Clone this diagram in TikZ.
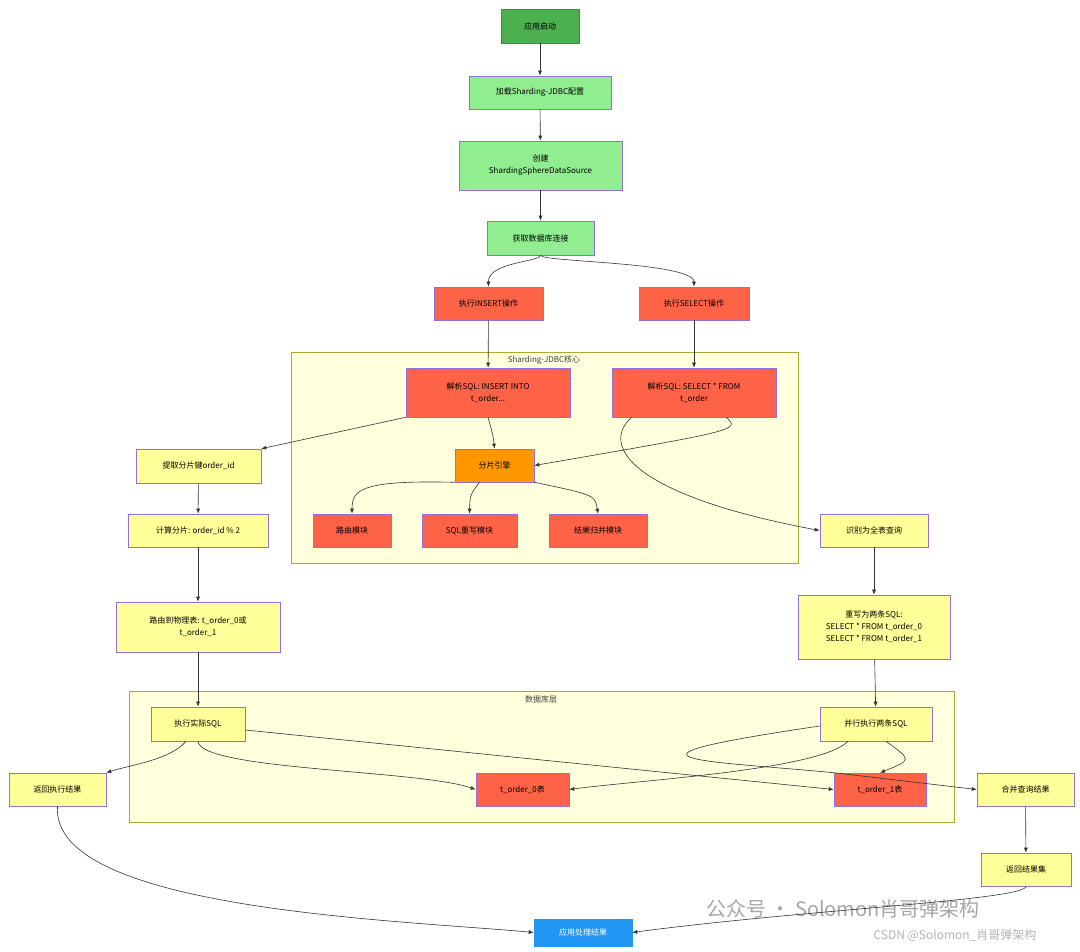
\documentclass[tikz,border=0pt]{standalone}
\usepackage{fontspec}
\setmainfont{Noto Sans CJK SC}
\usetikzlibrary{positioning, calc, arrows.meta}
\definecolor{startgreen}{HTML}{4CAF50}
\definecolor{cfggreen}{HTML}{90EE90}
\definecolor{opred}{HTML}{FF6347}
\definecolor{engorange}{HTML}{FF9800}
\definecolor{stepyellow}{HTML}{FFFF99}
\definecolor{endblue}{HTML}{2196F3}
\definecolor{edgepurple}{HTML}{9370DB}
\definecolor{clusterfill}{HTML}{FFFFDE}
\definecolor{clusterline}{HTML}{AAAA33}
\tikzstyle{Arrow} = [
%connector between two steps
draw=black!80, line width=0.6pt, -{Latex[length=5pt,width=4pt]}
]
\begin{document}
\begin{tikzpicture}[x=1pt, y=-1pt,
	font=\fontsize{8}{12}\selectfont,
	flowbox/.style = {rectangle, draw=edgepurple, line width=0.6pt, align=center, inner sep=0pt},
	boxstart/.style = {flowbox, fill=startgreen, draw=startgreen!80!black},
	boxconfig/.style = {flowbox, fill=cfggreen},
	boxop/.style = {flowbox, fill=opred},
	boxengine/.style = {flowbox, fill=engorange},
	boxstage/.style = {flowbox, fill=stepyellow},
	boxend/.style = {flowbox, fill=endblue, draw=endblue, text=white},
	cluster/.style = {draw=clusterline, fill=clusterfill, line width=0.6pt},
]
\useasboundingbox (0,0) rectangle (1080,952);

% clusters
\draw[cluster] (291,352) rectangle (798,563);
\node[font=\fontsize{8}{10}\selectfont, text=black!75] (coreTitle) at (544,360) {Sharding-JDBC核心};
\draw[cluster] (129,691) rectangle (954,822);
\node[font=\fontsize{8}{10}\selectfont, text=black!75] (dbTitle) at (541,699) {数据库层};

% main flow
\node[boxstart, minimum width=78, minimum height=34] (appStart) at (540,26) {应用启动};
\node[boxconfig, minimum width=142, minimum height=33] (loadCfg) at (540,92.5) {加载Sharding-JDBC配置};
\node[boxconfig, minimum width=163, minimum height=49] (createDS) at (540.5,165.5) {创建\\ShardingSphereDataSource};
\node[boxconfig, minimum width=107, minimum height=34] (getConn) at (540.5,238) {获取数据库连接};
\node[boxop, minimum width=109, minimum height=33] (doInsert) at (488.5,303.5) {执行INSERT操作};
\node[boxop, minimum width=110, minimum height=33] (doSelect) at (694,303.5) {执行SELECT操作};

% Sharding-JDBC core
\node[boxop, minimum width=164, minimum height=49] (parseInsert) at (488,392.5) {解析SQL: INSERT INTO\\t\_order...};
\node[boxop, minimum width=164, minimum height=49] (parseSelect) at (694,392.5) {解析SQL: SELECT * FROM\\t\_order};
\node[boxengine, minimum width=79, minimum height=33] (engine) at (494.5,465.5) {分片引擎};
\node[boxop, minimum width=78, minimum height=33] (routeMod) at (352,530.5) {路由模块};
\node[boxop, minimum width=95, minimum height=33] (rewriteMod) at (469.5,530.5) {SQL重写模块};
\node[boxop, minimum width=98, minimum height=33] (mergeMod) at (598,530.5) {结果归并模块};

% insert path
\node[boxstage, minimum width=125, minimum height=34] (getKey) at (198.5,466) {提取分片键order\_id};
\node[boxstage, minimum width=140, minimum height=33] (calcShard) at (198,530.5) {计算分片: order\_id \% 2};
\node[boxstage, minimum width=164, minimum height=50] (routeTable) at (198,627) {路由到物理表: t\_order\_0或\\t\_order\_1};

% select path
\node[boxstage, minimum width=108, minimum height=33] (fullScan) at (874,530.5) {识别为全表查询};
\node[boxstage, minimum width=152, minimum height=64] (rewriteTwo) at (874,627) {重写为两条SQL:\\SELECT * FROM t\_order\_0\\SELECT * FROM t\_order\_1};

% database layer
\node[boxstage, minimum width=94, minimum height=34] (execSql) at (198,724) {执行实际SQL};
\node[boxstage, minimum width=112, minimum height=34] (execTwo) at (876,724) {并行执行两条SQL};
\node[boxop, minimum width=93, minimum height=33] (tOrder0) at (522.5,789.5) {t\_order\_0表};
\node[boxop, minimum width=92, minimum height=33] (tOrder1) at (880,789.5) {t\_order\_1表};

% results
\node[boxstage, minimum width=97, minimum height=33] (insertResult) at (57.5,789.5) {返回执行结果};
\node[boxstage, minimum width=97, minimum height=33] (mergeResult) at (1025.5,789.5) {合并查询结果};
\node[boxstage, minimum width=90, minimum height=33] (resultSet) at (1026,869.5) {返回结果集};
\node[boxend, minimum width=98, minimum height=27] (appHandle) at (583,932.5) {应用处理结果};

% watermark
\node[text=black!35, font=\fontsize{20}{24}\selectfont] (markWx) at (843,909) {公众号 · Solomon肖哥弹架构};
\node[text=black!30, font=\fontsize{12}{14}\selectfont] (markCsdn) at (955,935) {CSDN @Solomon\_肖哥弹架构};

% edges
\draw[Arrow] (appStart) -- (loadCfg);
\draw[Arrow] (loadCfg) -- (createDS);
\draw[Arrow] (createDS) -- (getConn);
\draw[Arrow] (getConn.south) .. controls (540,262) and (488,262) .. (doInsert.north);
\draw[Arrow] (getConn.south) .. controls (540,262) and (694,262) .. (doSelect.north);
\draw[Arrow] (doInsert) -- (parseInsert);
\draw[Arrow] (doSelect) -- (parseSelect);
\draw[Arrow] (parseInsert.south) .. controls (493,435) .. (engine.north);
\draw[Arrow] ([xshift=-50pt]parseSelect.south east) .. controls (740,430) .. (engine.east);
\draw[Arrow] (parseInsert.south west) -- (getKey.north east);
\draw[Arrow] ([xshift=20pt]parseSelect.south west) .. controls (600,445) and (630,495) .. (fullScan.west);
\draw[Arrow] (engine.south west) .. controls (360,480) and (352,490) .. (routeMod.north);
\draw[Arrow] ([xshift=-15pt]engine.south) .. controls (470,495) .. (rewriteMod.north);
\draw[Arrow] (engine.south east) .. controls (595,495) .. (mergeMod.north);
\draw[Arrow] (getKey) -- (calcShard);
\draw[Arrow] (calcShard) -- (routeTable);
\draw[Arrow] (routeTable) -- (execSql);
\draw[Arrow] (fullScan) -- (rewriteTwo);
\draw[Arrow] (rewriteTwo) -- (execTwo);
\draw[Arrow] ([xshift=-12pt]execSql.south) .. controls (170,760) and (130,765) .. (insertResult.north east);
\draw[Arrow] (execSql.south) .. controls (200,770) and (420,770) .. (tOrder0.west);
\draw[Arrow] ([yshift=-6pt]execSql.east) -- (tOrder1.west);
\draw[Arrow] ([xshift=-28pt]execTwo.south) .. controls (820,770) and (640,780) .. (tOrder0.east);
\draw[Arrow] ([xshift=10pt]execTwo.south) .. controls (912,760) .. (tOrder1.north);
\draw[Arrow] ([yshift=-2pt]execTwo.west) .. controls (590,760) and (700,760) .. (tOrder1.north west) -- (mergeResult.west);
\draw[Arrow] (mergeResult) -- (resultSet);
\draw[Arrow] (insertResult.south) .. controls (50,910) and (400,920) .. (appHandle.west);
\draw[Arrow] (resultSet.south) .. controls (1026,900) and (800,910) .. (appHandle.east);
\end{tikzpicture}
\end{document}
